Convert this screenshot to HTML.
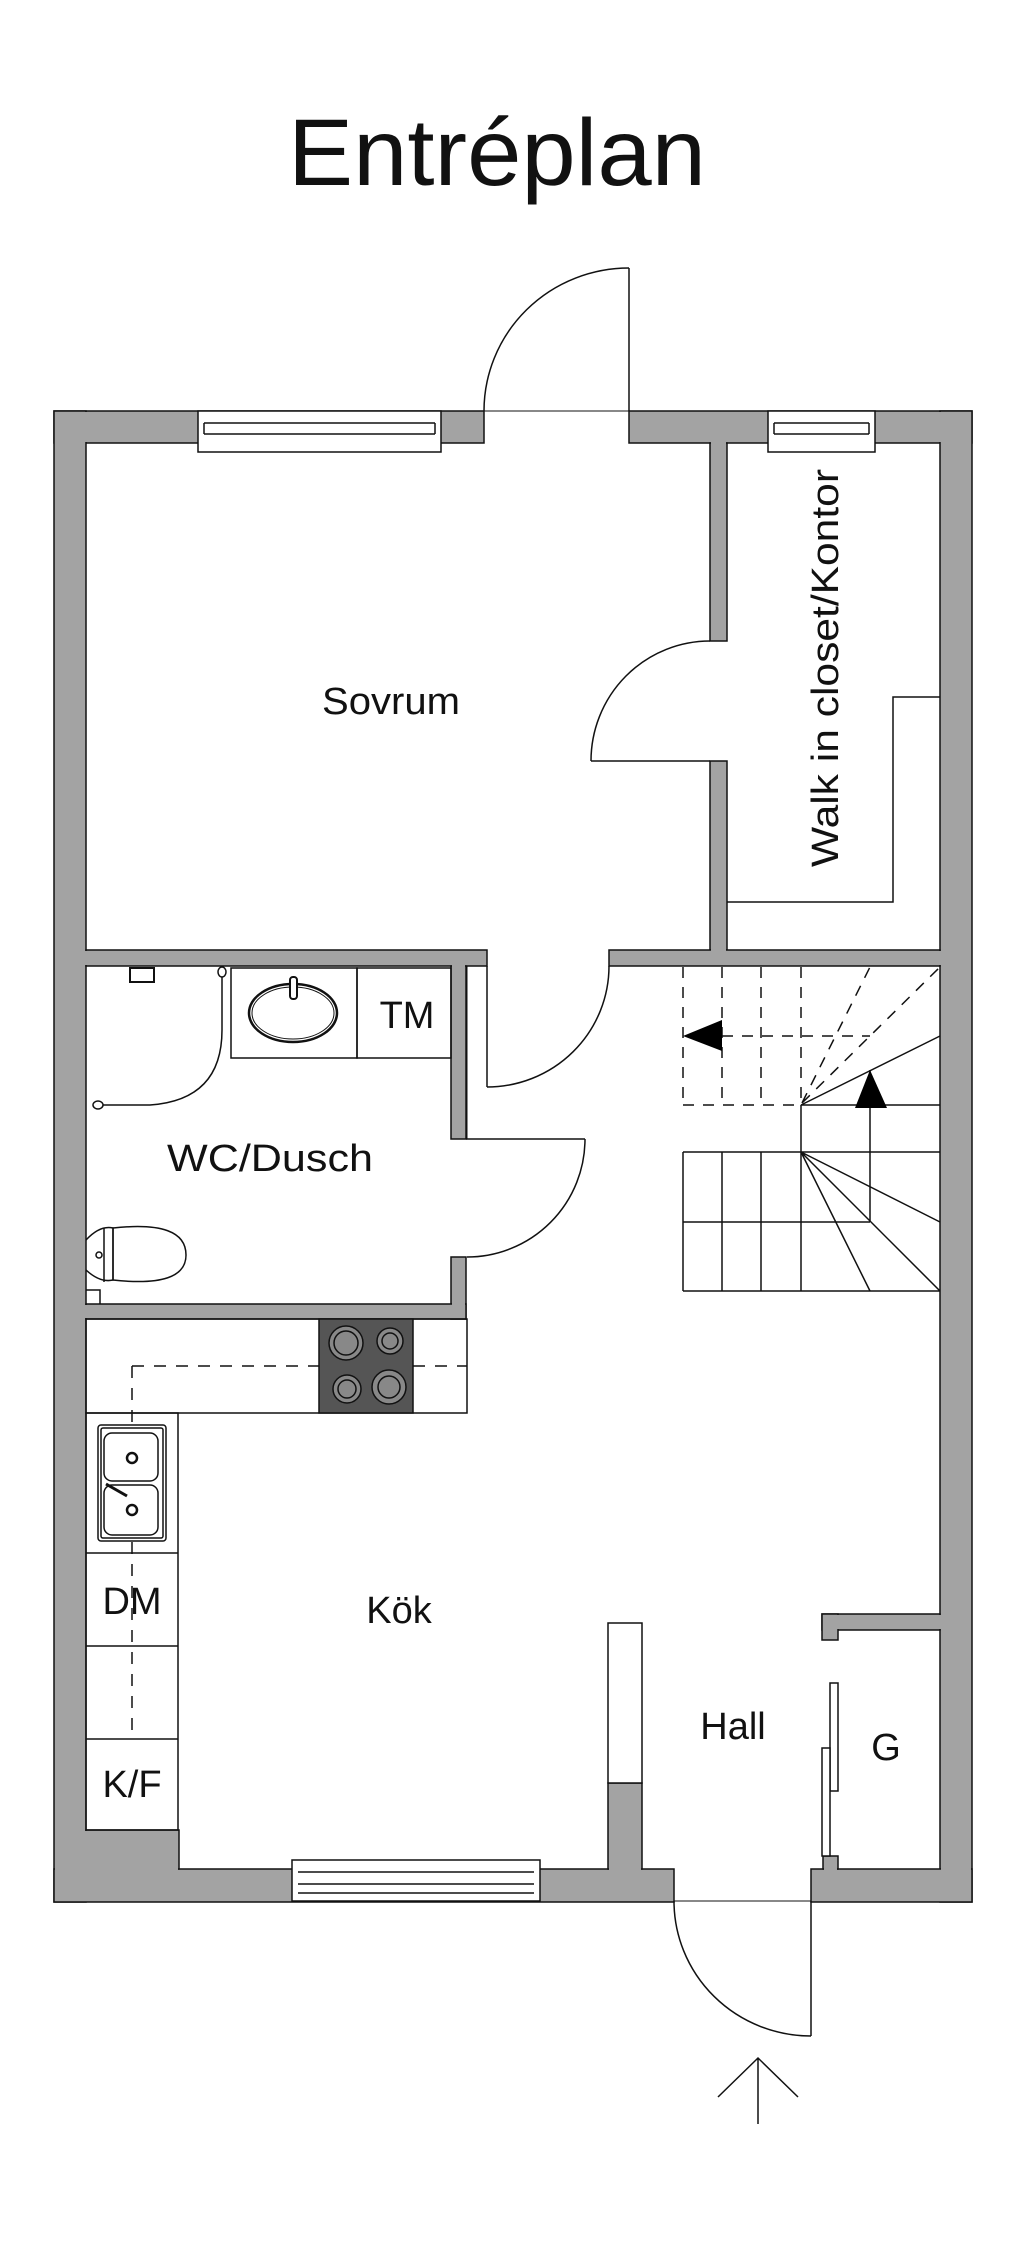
<!DOCTYPE html>
<html><head><meta charset="utf-8"><style>
html,body{margin:0;padding:0;background:#fff}
svg{display:block}
text{font-family:"Liberation Sans",sans-serif;fill:#111}
</style></head><body>
<svg width="1024" height="2241" viewBox="0 0 1024 2241" xmlns="http://www.w3.org/2000/svg">
<rect width="1024" height="2241" fill="#fff"/>
<text x="497" y="185" font-size="95" text-anchor="middle" textLength="418" lengthAdjust="spacingAndGlyphs">Entréplan</text>

<g fill="#a3a3a3" stroke="#111" stroke-width="1.5">
<rect x="54" y="411" width="430" height="32"/>
<rect x="629" y="411" width="343" height="32"/>
<rect x="54" y="411" width="32" height="1491"/>
<rect x="940" y="411" width="32" height="1491"/>
<rect x="54" y="1869" width="620" height="33"/>
<rect x="811" y="1869" width="161" height="33"/>
<rect x="86" y="1830" width="93" height="39"/>
<rect x="710" y="443" width="17" height="198"/>
<rect x="710" y="761" width="17" height="189"/>
<rect x="86" y="950" width="401" height="16"/>
<rect x="609" y="950" width="331" height="16"/>
<rect x="451" y="966" width="15" height="173"/>
<rect x="451" y="1257" width="15" height="62"/>
<rect x="86" y="1304" width="380" height="15"/>
<rect x="608" y="1783" width="34" height="86"/>
<rect x="822" y="1614" width="118" height="16"/>
<rect x="822" y="1614" width="16" height="26"/>
<rect x="823" y="1856" width="15" height="13"/>
</g>
<g fill="#a3a3a3">
<rect x="55" y="412" width="30" height="1489"/>
<rect x="941" y="412" width="30" height="1489"/>
<rect x="55" y="1870" width="618" height="31"/>
<rect x="812" y="1870" width="159" height="31"/>
<rect x="80" y="1831" width="98" height="50"/>
<rect x="55" y="412" width="428" height="30"/>
<rect x="630" y="412" width="341" height="30"/>
<rect x="711" y="430" width="15" height="210"/>
<rect x="711" y="762" width="15" height="203"/>
<rect x="80" y="951" width="406" height="14"/>
<rect x="610" y="951" width="340" height="14"/>
<rect x="452" y="951" width="13" height="187"/>
<rect x="452" y="1258" width="13" height="60"/>
<rect x="80" y="1305" width="385" height="13"/>
<rect x="609" y="1784" width="32" height="95"/>
<rect x="823" y="1615" width="125" height="14"/>
<rect x="823" y="1615" width="14" height="24"/>
<rect x="824" y="1857" width="13" height="20"/>
</g>

<g fill="none" stroke="#111" stroke-width="1.5">
<rect x="198" y="411" width="243" height="41" fill="#fff"/>
<line x1="204" y1="423" x2="435" y2="423"/><line x1="204" y1="434" x2="435" y2="434"/><line x1="204" y1="423" x2="204" y2="434"/><line x1="435" y1="423" x2="435" y2="434"/>
<rect x="768" y="411" width="107" height="41" fill="#fff"/>
<line x1="774" y1="423" x2="869" y2="423"/><line x1="774" y1="434" x2="869" y2="434"/><line x1="774" y1="423" x2="774" y2="434"/><line x1="869" y1="423" x2="869" y2="434"/>
<rect x="292" y="1860" width="248" height="41" fill="#fff"/>
<line x1="298" y1="1884" x2="534" y2="1884"/><line x1="298" y1="1893" x2="534" y2="1893"/><line x1="298" y1="1872" x2="534" y2="1872"/>

<line x1="484" y1="411" x2="629" y2="411" stroke-width="1"/>
<line x1="629" y1="268" x2="629" y2="411"/>
<path d="M484 411 A145 143 0 0 1 629 268"/>
<line x1="591" y1="761" x2="710" y2="761"/>
<path d="M591 761 A119 120 0 0 1 710 641"/>
<polyline points="727,902 893,902 893,697 940,697"/>
<line x1="487" y1="966" x2="487" y2="1087"/>
<path d="M487 1087 A122 121 0 0 0 609 966"/>
<line x1="467" y1="966" x2="467" y2="1139" stroke-width="1"/>
<line x1="466" y1="1139" x2="585" y2="1139"/>
<path d="M585 1139 A118 118 0 0 1 467 1257"/>
<rect x="231" y="968" width="126" height="90"/>
<rect x="357" y="968" width="94" height="90"/>
<ellipse cx="293" cy="1013" rx="44" ry="29" stroke-width="2.5"/>
<ellipse cx="293" cy="1013" rx="41" ry="26" stroke-width="1"/>
<rect x="290" y="977" width="7" height="22" rx="3" fill="#fff" stroke-width="2"/>
<path d="M100 1105 L150 1105 Q222 1100 222 1030 L222 975"/>
<ellipse cx="98" cy="1105" rx="5" ry="4" fill="#fff"/>
<ellipse cx="222" cy="972" rx="4" ry="5" fill="#fff"/>
<rect x="130" y="968" width="24" height="14" stroke-width="2"/>
<path d="M86 1240 Q100 1225 113 1228 L113 1280 Q100 1283 86 1270"/>
<path d="M113 1228 Q186 1220 186 1255 Q186 1288 113 1280 Z"/>
<line x1="104" y1="1228" x2="104" y2="1282"/>
<circle cx="99" cy="1255" r="3"/>
<polyline points="86,1290 100,1290 100,1304"/>
<rect x="86" y="1319" width="381" height="94"/>
<rect x="319" y="1319" width="94" height="94" fill="#555"/>
<g stroke="#111" stroke-width="1.5" fill="#888">
<circle cx="346" cy="1343" r="17"/><circle cx="346" cy="1343" r="12"/>
<circle cx="390" cy="1341" r="13"/><circle cx="390" cy="1341" r="8"/>
<circle cx="347" cy="1389" r="14"/><circle cx="347" cy="1389" r="9"/>
<circle cx="389" cy="1387" r="17"/><circle cx="389" cy="1387" r="11"/>
</g>
<path d="M132 1366 L319 1366 M413 1366 L467 1366 M132 1366 L132 1740" stroke-dasharray="12 10"/>
<rect x="86" y="1413" width="92" height="417"/>
<line x1="86" y1="1553" x2="178" y2="1553"/>
<line x1="86" y1="1646" x2="178" y2="1646"/>
<line x1="86" y1="1739" x2="178" y2="1739"/>
<rect x="98" y="1425" width="68" height="116" rx="3" fill="#fff"/>
<rect x="101" y="1428" width="62" height="110" rx="2"/>
<rect x="104" y="1433" width="54" height="48" rx="8"/>
<rect x="104" y="1485" width="54" height="50" rx="8"/>
<circle cx="132" cy="1458" r="5" stroke-width="2.5"/><circle cx="132" cy="1510" r="5" stroke-width="2.5"/>
<line x1="106" y1="1484" x2="127" y2="1496" stroke-width="3"/>
<rect x="608" y="1623" width="34" height="160" fill="#fff"/>
<rect x="830" y="1683" width="8" height="108" fill="#fff"/>
<rect x="822" y="1748" width="8" height="108" fill="#fff"/>
<line x1="674" y1="1901" x2="811" y2="1901" stroke-width="1"/>
<line x1="811" y1="1901" x2="811" y2="2036"/>
<path d="M674 1901 A137 135 0 0 0 811 2036"/>
<path d="M758 2124 L758 2058 M718 2097 L758 2058 L798 2097"/>
</g>

<g fill="none" stroke="#111" stroke-width="1.5">
<g stroke-dasharray="11 9">
<path d="M683 967 V1105 M722 967 V1105 M761 967 V1105 M801 967 V1105"/>
<path d="M722 1036 H870 M683 1105 H801"/>
<path d="M802 1103 L870 967 M802 1103 L940 967"/>
</g>
<path d="M801 1105 L940 1036 M801 1105 H940 M801 1105 V1291"/>
<path d="M683 1152 H940 M683 1222 H870 M683 1291 H940"/>
<path d="M683 1152 V1291 M722 1152 V1291 M761 1152 V1291"/>
<path d="M870 1070 V1222"/>
<path d="M801 1152 L870 1291 M801 1152 L940 1291 M801 1152 L940 1222"/>
</g>
<polygon points="683,1036 722,1020 722,1051" fill="#000"/>
<polygon points="870,1070 855,1108 887,1108" fill="#000"/>

<text x="391" y="714" font-size="38" text-anchor="middle" textLength="138" lengthAdjust="spacingAndGlyphs">Sovrum</text>
<text transform="translate(838,668) rotate(-90)" font-size="38" text-anchor="middle" textLength="398" lengthAdjust="spacingAndGlyphs">Walk in closet/Kontor</text>
<text x="407" y="1028" font-size="38" text-anchor="middle">TM</text>
<text x="270" y="1171" font-size="38" text-anchor="middle" textLength="206" lengthAdjust="spacingAndGlyphs">WC/Dusch</text>
<text x="399" y="1623" font-size="38" text-anchor="middle">Kök</text>
<text x="132" y="1614" font-size="38" text-anchor="middle">DM</text>
<text x="132" y="1797" font-size="38" text-anchor="middle">K/F</text>
<text x="733" y="1739" font-size="38" text-anchor="middle">Hall</text>
<text x="886" y="1760" font-size="38" text-anchor="middle">G</text>
</svg>
</body></html>
